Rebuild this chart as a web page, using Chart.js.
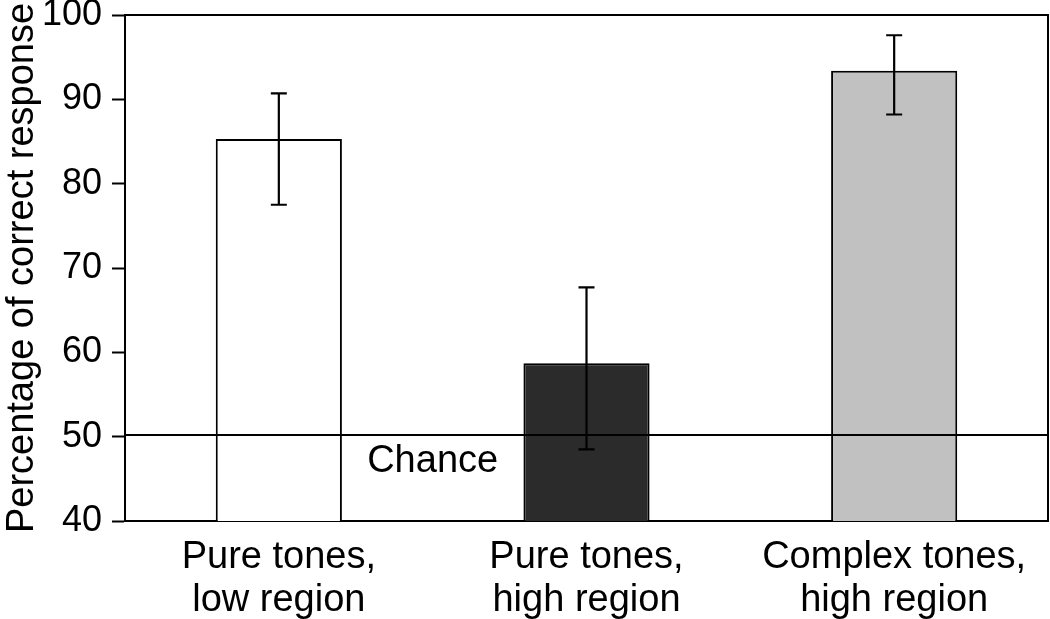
<!DOCTYPE html>
<html>
<head>
<meta charset="utf-8">
<script src="https://cdn.jsdelivr.net/npm/chart.js@4/dist/chart.umd.min.js"></script>
<style>
  html, body { margin: 0; padding: 0; background: #fff; }
  #wrap { width: 1050px; height: 619px; }
</style>
</head>
<body>
<div id="wrap"><canvas id="chart"></canvas></div>
<script>
const categories = [['Pure tones,', 'low region'], ['Pure tones,', 'high region'], ['Complex tones,', 'high region']]
const scores = [85.3, 58.7, 93.4]
const errLow = [77.5, 48.5, 88.2]
const errHigh = [90.7, 67.7, 97.6]
const barColors = ['#ffffff', '#2b2b2b', '#c1c1c1']
const yTicks = [40, 50, 60, 70, 80, 90, 100]
const chanceLevel = 50.2
const chanceLabel = 'Chance'
const chanceLabelAt = [0.5, 47] // category position, y value

const FONT = "'Liberation Sans', Arial, Helvetica, sans-serif"

// error bars, drawn on top of the bars
const errorBars = {
  id: 'errorBars',
  afterDatasetsDraw(chart) {
    const { ctx, scales: { x, y } } = chart
    ctx.save()
    ctx.strokeStyle = '#000'
    ctx.lineWidth = 2.2
    errLow.forEach((lo, i) => {
      const cx = x.getPixelForValue(i)
      const yLo = y.getPixelForValue(lo)
      const yHi = y.getPixelForValue(errHigh[i])
      ctx.beginPath()
      ctx.moveTo(cx, yLo); ctx.lineTo(cx, yHi)
      ctx.moveTo(cx - 8, yLo); ctx.lineTo(cx + 8, yLo)
      ctx.moveTo(cx - 8, yHi); ctx.lineTo(cx + 8, yHi)
      ctx.stroke()
    })
    ctx.restore()
  }
}

// chance line + label, plus top/right frame of the plot box
const chanceLine = {
  id: 'chanceLine',
  afterDraw(chart) {
    const { ctx, chartArea: a, scales: { x, y } } = chart
    ctx.save()
    ctx.strokeStyle = '#000'
    ctx.lineWidth = 2
    const cy = y.getPixelForValue(chanceLevel)
    ctx.beginPath()
    ctx.moveTo(a.left, cy); ctx.lineTo(a.right, cy)
    ctx.stroke()
    ctx.beginPath()
    ctx.moveTo(a.left, a.top); ctx.lineTo(a.right, a.top); ctx.lineTo(a.right, a.bottom)
    ctx.stroke()
    ctx.fillStyle = '#000'
    ctx.font = '38px ' + FONT
    ctx.textAlign = 'center'
    ctx.textBaseline = 'middle'
    ctx.fillText(chanceLabel, x.getPixelForValue(chanceLabelAt[0]), y.getPixelForValue(chanceLabelAt[1]))
    ctx.restore()
  }
}

new Chart(document.getElementById('chart'), {
  type: 'bar',
  data: {
    labels: categories,
    datasets: [{
      data: scores,
      backgroundColor: barColors,
      borderColor: '#000',
      borderWidth: 2,
      borderSkipped: false,
      categoryPercentage: 1,
      barPercentage: 0.41,
    }]
  },
  options: {
    responsive: true,
    maintainAspectRatio: false,
    animation: false,
    layout: { padding: { top: 15, right: 2, left: 0, bottom: 0 } },
    plugins: { legend: { display: false }, tooltip: { enabled: false } },
    scales: {
      x: {
        grid: { display: false },
        border: { display: true, color: '#000', width: 2 },
        ticks: { color: '#000', font: { family: FONT, size: 38, lineHeight: 1.13 }, padding: 7, maxRotation: 0, autoSkip: false },
        afterFit: s => { s.height = 98; s.paddingLeft = 0; s.paddingRight = 0 },
      },
      y: {
        min: 40,
        max: 100,
        afterBuildTicks: s => { s.ticks = yTicks.map(v => ({ value: v })) },
        grid: { display: true, drawOnChartArea: false, drawTicks: true, tickLength: 13, tickWidth: 2, tickColor: '#000' },
        border: { display: true, color: '#000', width: 2 },
        ticks: { color: '#000', font: { family: FONT, size: 36 }, padding: 10 },
        title: { display: true, text: 'Percentage of correct response', color: '#000', font: { family: FONT, size: 38 }, padding: 0 },
        afterFit: s => { s.width = 125; s.paddingTop = 0; s.paddingBottom = 0 },
      }
    }
  },
  plugins: [errorBars, chanceLine]
})
</script>
</body>
</html>
